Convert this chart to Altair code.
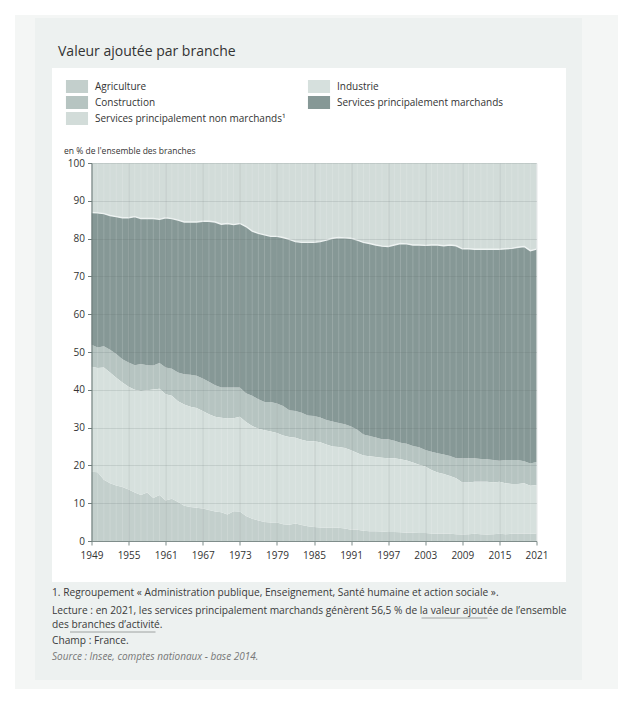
import altair as alt
import pandas as pd

years = list(range(1949, 2022))

# Cumulative upper boundaries (in % of total value added)
agri_top = [18.3, 18.2, 16.2, 15.3, 14.7, 14.3, 13.6, 12.8, 12.2, 12.8, 11.4, 12.2, 10.7, 11.2, 10.3, 9.3, 9.0, 8.8,
            8.6, 8.2, 7.8, 7.6, 7.0, 7.9, 7.8, 6.6, 5.9, 5.4, 5.0, 4.9, 4.9, 4.4, 4.3, 4.6, 4.2, 3.9, 3.7, 3.6,
            3.5, 3.6, 3.5, 3.3, 3.0, 3.0, 2.7, 2.6, 2.6, 2.5, 2.4, 2.4, 2.3, 2.2, 2.2, 2.1, 2.1, 2.0, 1.9, 1.9,
            1.9, 1.8, 1.7, 1.8, 1.9, 1.8, 1.7, 1.8, 1.9, 1.8, 1.9, 1.9, 1.9, 1.9, 2.0]
industrie_top = [46.1, 45.8, 45.9, 44.6, 43.2, 41.9, 40.8, 40.0, 39.7, 39.9, 40.1, 40.3, 38.8, 38.4, 37.0, 36.1, 35.5,
                 35.2, 34.4, 33.5, 32.9, 32.6, 32.4, 32.5, 32.9, 31.5, 30.4, 29.7, 29.3, 29.0, 28.6, 27.9, 27.5,
                 27.3, 26.8, 26.4, 26.4, 26.1, 25.5, 25.0, 24.9, 24.6, 24.0, 23.3, 22.6, 22.4, 22.2, 22.0, 21.9,
                 21.9, 21.6, 21.3, 20.8, 20.2, 19.7, 18.8, 18.1, 17.7, 17.2, 16.6, 15.5, 15.5, 15.7, 15.7, 15.7,
                 15.5, 15.7, 15.3, 15.1, 15.1, 15.3, 14.6, 14.8]
construction_top = [51.9, 51.2, 51.5, 50.6, 49.5, 48.1, 47.2, 46.5, 46.8, 46.5, 46.4, 47.1, 45.9, 45.6, 44.6, 44.1,
                    44.0, 43.7, 43.0, 42.1, 41.2, 40.6, 40.6, 40.6, 40.6, 39.1, 38.4, 37.5, 36.8, 36.8, 36.4, 35.7,
                    34.6, 34.4, 33.9, 33.2, 33.1, 32.7, 32.0, 31.6, 31.2, 30.9, 30.3, 29.4, 28.2, 27.8, 27.4, 26.9,
                    26.9, 26.5, 26.0, 25.7, 25.1, 24.8, 24.1, 23.6, 23.2, 22.9, 22.5, 21.9, 21.9, 21.9, 21.9, 21.7,
                    21.6, 21.4, 21.2, 21.4, 21.4, 21.4, 21.1, 20.5, 20.9]
marchands_top = [86.9, 86.8, 86.6, 86.1, 85.8, 85.5, 85.5, 85.8, 85.3, 85.3, 85.3, 85.1, 85.5, 85.3, 84.9, 84.4,
                 84.4, 84.4, 84.6, 84.6, 84.4, 83.8, 84.0, 83.7, 84.0, 83.2, 82.0, 81.4, 81.0, 80.6, 80.6, 80.3,
                 79.8, 79.2, 79.0, 79.0, 79.0, 79.2, 79.6, 80.1, 80.3, 80.2, 80.1, 79.6, 79.0, 78.7, 78.3, 78.0,
                 77.9, 78.3, 78.7, 78.6, 78.3, 78.3, 78.2, 78.3, 78.3, 78.1, 78.3, 78.1, 77.3, 77.3, 77.2, 77.2,
                 77.2, 77.2, 77.2, 77.3, 77.4, 77.7, 77.9, 76.8, 77.2]
total_top = [100.0] * len(years)

# legend order (column-major, 2 columns)
series = ["Agriculture", "Construction", "Services principalement non marchands\u00b9",
          "Industrie", "Services principalement marchands"]
colors = ["#c3cfcc", "#b6c4c1", "#d2dcd9", "#d6e0dd", "#869896"]
x_ticks = [1949, 1955, 1961, 1967, 1973, 1979, 1985, 1991, 1997, 2003, 2009, 2015, 2021]
y_ticks = [0, 10, 20, 30, 40, 50, 60, 70, 80, 90, 100]

bounds = {
    "Agriculture": (None, agri_top),
    "Industrie": (agri_top, industrie_top),
    "Construction": (industrie_top, construction_top),
    "Services principalement marchands": (construction_top, marchands_top),
    "Services principalement non marchands\u00b9": (marchands_top, total_top),
}
rows = []
for s in series:
    lo, hi = bounds[s]
    for i, yr in enumerate(years):
        rows.append({"year": yr, "series": s, "lo": 0.0 if lo is None else lo[i], "hi": hi[i]})
df = pd.DataFrame(rows)
df_years = pd.DataFrame({"year": years, "lo": [0.0] * len(years), "hi": total_top})
df_sm = pd.DataFrame({"year": years, "lo": marchands_top})
one = pd.DataFrame({"k": [0]})

FONT = "Open Sans"
W, H = 445, 378

def rect(x1, x2, y1, y2, color):
    return alt.Chart(one).mark_rect(color=color).encode(
        x=alt.value(x1), x2=alt.value(x2), y=alt.value(y1), y2=alt.value(y2))

def txt(x, y, s, size=10.2, color="#3a3a3a", style="normal"):
    return alt.Chart(one).mark_text(align="left", baseline="middle", font=FONT, fontSize=size,
                                    color=color, fontStyle=style).encode(
        x=alt.value(x), y=alt.value(y), text=alt.value(s))

def uline(x1, x2, y):
    return alt.Chart(one).mark_rule(color="#8a8f8e", strokeWidth=0.8).encode(
        x=alt.value(x1), x2=alt.value(x2), y=alt.value(y))

xscale = alt.Scale(domain=[1949, 2021], nice=False, zero=False)
yscale = alt.Scale(domain=[0, 100], nice=False)

x_axis = alt.Axis(values=x_ticks, tickCount=40, format="d", title=None, grid=True, zindex=1,
                  gridColor="#5b6b69", gridOpacity=0.16, tickSize=4, labelPadding=5,
                  domainColor="#7f8d8b", tickColor="#7f8d8b", labelFlush=False,
                  labelOverlap=False)
y_axis = alt.Axis(values=y_ticks, tickCount=40, title="en % de l'ensemble des branches", grid=True,
                  zindex=1, gridColor="#5b6b69", gridOpacity=0.16, tickSize=4, labelPadding=3,
                  domainColor="#6f7d7b", tickColor="#6f7d7b", labelOverlap=False,
                  titleAngle=0, titleAlign="left", titleBaseline="middle",
                  titleX=-28, titleY=-13, titleFontSize=8.5, titleFontWeight="normal",
                  titleColor="#333333", titleFont=FONT)

X = alt.X("year:Q", scale=xscale, axis=x_axis)
Y = alt.Y("lo:Q", scale=yscale, axis=y_axis)

areas = alt.Chart(df).mark_area(opacity=1, interpolate="linear").encode(
    x=X, y=Y, y2="hi:Q",
    color=alt.Color("series:N", scale=alt.Scale(domain=series, range=colors),
                    legend=alt.Legend(title=None, orient="none", legendX=-21, legendY=-83,
                                      columns=2, columnPadding=22, rowPadding=3,
                                      symbolType="M-1.7,-1H1.7V1H-1.7Z", symbolSize=169,
                                      symbolStrokeWidth=0, symbolOpacity=1, labelOffset=11.5,
                                      labelFont=FONT, labelFontSize=10, labelColor="#333333",
                                      labelLimit=400, padding=0)),
)

stripes = alt.Chart(df_years).mark_rule(color="white", opacity=0.2, strokeWidth=0.8).encode(
    x=X, y=Y, y2="hi:Q")

sm_line = alt.Chart(df_sm).mark_line(color="#eef3f2", strokeWidth=1.4).encode(x=X, y=Y)

layers = [
    rect(-76.5, 526.5, -148, 527, "#f4f6f5"),
    rect(-56.5, 490.5, -145, 517, "#edf1f0"),
    rect(-39.5, 474.5, -95, 419, "#ffffff"),
    areas, stripes, sm_line,
    txt(-33.5, -111, "Valeur ajoutée par branche", size=14, color="#333333"),
    txt(-39.5, 430, "1. Regroupement « Administration publique, Enseignement, Santé humaine et action sociale »."),
    txt(-39.5, 448, "Lecture : en 2021, les services principalement marchands génèrent 56,5 % de la valeur ajoutée de l’ensemble"),
    txt(-39.5, 462, "des branches d’activité."),
    txt(-39.5, 478, "Champ : France."),
    txt(-39.5, 494, "Source : Insee, comptes nationaux - base 2014.", size=10, color="#777777", style="italic"),
    uline(330, 396, 455),
    uline(-21.5, 64, 469),
]

chart = alt.layer(*layers).properties(
    width=W, height=H,
    autosize=alt.AutoSizeParams(type="none"),
    padding={"left": 83.5, "top": 155, "right": 88.5, "bottom": 148},
    background="white",
).configure_view(stroke=None).configure_axis(
    labelFont=FONT, labelFontSize=10, labelColor="#333333", labelOverlap=False,
)

chart.save("out.html", embed_options={"renderer": "svg", "actions": False})
